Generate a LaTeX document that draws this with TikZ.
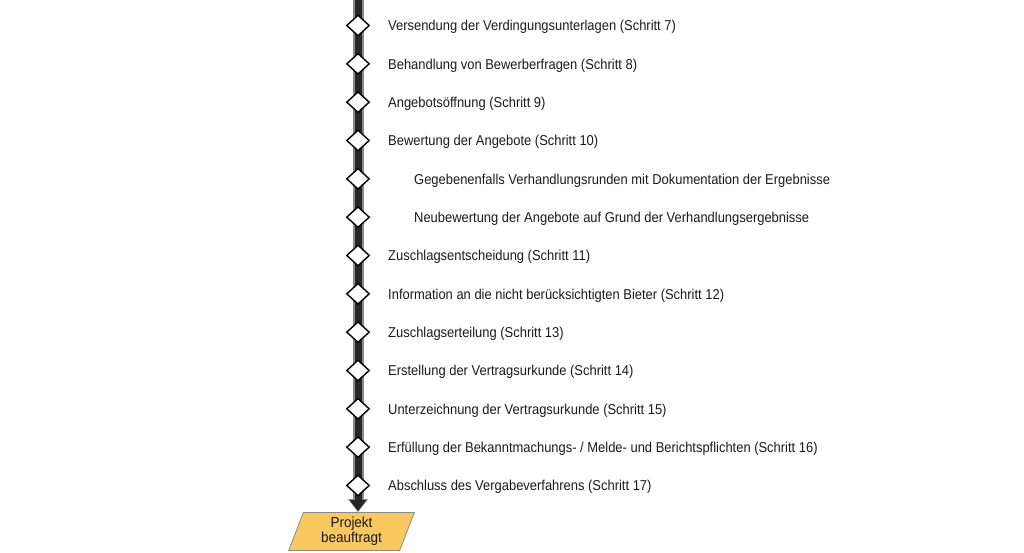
\documentclass[tikz,border=0pt]{standalone}
\usepackage{fontspec}
\setmainfont{Liberation Sans}[FakeStretch=0.905]
\newfontfamily\projfont{Liberation Sans}[FakeStretch=0.93]
\usetikzlibrary{shapes.geometric,arrows.meta}
\definecolor{bardark}{HTML}{262626}
\definecolor{baredge}{HTML}{8A8A8A}
\definecolor{projfill}{HTML}{F9C85E}
\definecolor{txt}{HTML}{1A1A1A}
\tikzset{
  stepdia/.style={diamond, draw=black, fill=white, line width=1.4pt, inner sep=0pt, minimum width=23pt, minimum height=21pt},
  steptext/.style={anchor=base west, inner sep=0pt, text=txt, font=\fontsize{14.3}{16}\selectfont},
  projbox/.style={trapezium, trapezium left angle=72, trapezium right angle=108, trapezium stretches=true, draw=baredge, fill=projfill, line width=0.8pt, minimum width=126pt, minimum height=38pt, inner sep=0pt, align=center, text=txt, font=\projfont\fontsize{14.5}{16}\selectfont},
}
\begin{document}
\begin{tikzpicture}[x=1pt,y=-1pt]
\useasboundingbox (0,0) rectangle (1024,552);
\node[projbox] (proj) at (351.5,531.5) {Projekt\\[-1pt]beauftragt};
\coordinate (top) at (358,-2);
\coordinate (barend) at (358,500);
\draw[line width=11pt, color=baredge, -{Triangle[width=19pt,length=13pt]}] (top) -- (top |- proj.north);
\draw[line width=7pt, color=bardark] (top) -- (barend);
\fill[bardark] (349.5,500) -- (366.5,500) -- (358,511) -- cycle;
\foreach \i/\ind/\t in {
0/0/{Versendung der Verdingungsunterlagen (Schritt 7)},
1/0/{Behandlung von Bewerberfragen (Schritt 8)},
2/0/{Angebotsöffnung (Schritt 9)},
3/0/{Bewertung der Angebote (Schritt 10)},
4/1/{Gegebenenfalls Verhandlungsrunden mit Dokumentation der Ergebnisse},
5/1/{Neubewertung der Angebote auf Grund der Verhandlungsergebnisse},
6/0/{Zuschlagsentscheidung (Schritt 11)},
7/0/{Information an die nicht berücksichtigten Bieter (Schritt 12)},
8/0/{Zuschlagserteilung (Schritt 13)},
9/0/{Erstellung der Vertragsurkunde (Schritt 14)},
10/0/{Unterzeichnung der Vertragsurkunde (Schritt 15)},
11/0/{Erfüllung der Bekanntmachungs- / Melde- und Berichtspflichten (Schritt 16)},
12/0/{Abschluss des Vergabeverfahrens (Schritt 17)}}{
  \pgfmathsetmacro{\yy}{25.5+38.33*\i}
  \pgfmathsetmacro{\xx}{388+26*\ind}
  \node[stepdia] (d\i) at (358,\yy) {};
  \node[steptext] (t\i) at (\xx,\yy+5.2) {\t};
}
\end{tikzpicture}
\end{document}
